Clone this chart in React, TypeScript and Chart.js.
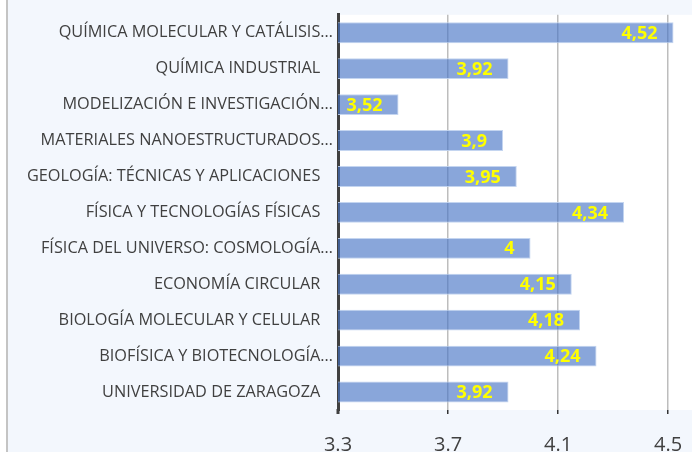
import React, { useEffect, useRef } from "react";
import { Chart, registerables } from "chart.js";

Chart.register(...registerables);

const categories = [
  "QUÍMICA MOLECULAR Y CATÁLISIS…",
  "QUÍMICA INDUSTRIAL",
  "MODELIZACIÓN E INVESTIGACIÓN…",
  "MATERIALES NANOESTRUCTURADOS…",
  "GEOLOGÍA: TÉCNICAS Y APLICACIONES",
  "FÍSICA Y TECNOLOGÍAS FÍSICAS",
  "FÍSICA DEL UNIVERSO: COSMOLOGÍA…",
  "ECONOMÍA CIRCULAR",
  "BIOLOGÍA MOLECULAR Y CELULAR",
  "BIOFÍSICA Y BIOTECNOLOGÍA…",
  "UNIVERSIDAD DE ZARAGOZA",
];
const values = [4.52, 3.92, 3.52, 3.9, 3.95, 4.34, 4, 4.15, 4.18, 4.24, 3.92];
const xTicks = [3.3, 3.7, 4.1, 4.5];
const xMin = 3.3;
const xMax = 4.689;

const FONT = "'Open Sans', sans-serif";

const bgPlugin = {
  id: "bgPlugin",
  beforeDraw(chart: any) {
    const { ctx, chartArea, width, height } = chart;
    ctx.save();
    ctx.fillStyle = "#ffffff";
    ctx.fillRect(0, 0, width, height);
    ctx.fillStyle = "#f3f7fd";
    ctx.fillRect(8, 0, width - 8, height);
    ctx.fillStyle = "#c4c4c4";
    ctx.fillRect(6, 0, 2, height);
    ctx.fillStyle = "#ffffff";
    ctx.fillRect(chartArea.left, chartArea.top, chartArea.right - chartArea.left, chartArea.bottom - chartArea.top);
    ctx.restore();
  },
  afterDraw(chart: any) {
    const { ctx, chartArea } = chart;
    ctx.save();
    ctx.fillStyle = "#404040";
    ctx.fillRect(chartArea.left - 1.5, chartArea.bottom - 1, 3, 5);
    ctx.restore();
  },
};

const labelPlugin = {
  id: "valueLabels",
  afterDatasetsDraw(chart: any) {
    const { ctx } = chart;
    const meta = chart.getDatasetMeta(0);
    ctx.save();
    ctx.font = `bold 18px ${FONT}`;
    ctx.fillStyle = "#ffff00";
    ctx.textBaseline = "middle";
    ctx.textAlign = "left";
    meta.data.forEach((bar: any, i: number) => {
      const text = String(values[i]).replace(".", ",");
      const w = ctx.measureText(text).width;
      let x = bar.x - 16 - w;
      const minX = bar.base + 16;
      if (x < minX) x = minX;
      ctx.fillText(text, x, bar.y + 1);
    });
    ctx.restore();
  },
};

export default function App() {
  const ref = useRef<HTMLCanvasElement | null>(null);
  useEffect(() => {
    document.body.style.margin = "0";
    const canvas = ref.current!;
    const chart = new Chart(canvas, {
      type: "bar",
      data: {
        labels: categories,
        datasets: [
          {
            data: values,
            backgroundColor: "rgba(68,114,196,0.63)",
            borderColor: "rgba(190,208,238,0.9)",
            borderWidth: 1,
            borderSkipped: false,
            categoryPercentage: 1,
            barPercentage: 0.58,
          },
        ],
      },
      options: {
        indexAxis: "y",
        animation: false,
        responsive: false,
        devicePixelRatio: 1,
        layout: { padding: { top: 13, left: 0, right: 0, bottom: 0 } },
        plugins: {
          legend: { display: false },
          tooltip: { enabled: false },
        },
        scales: {
          x: {
            min: xMin,
            max: xMax,
            afterBuildTicks: (s: any) => {
              s.ticks = xTicks.map((v) => ({ value: v }));
            },
            afterFit: (s: any) => {
              s.height = 42;
            },
            grid: {
              color: "#bdbdbd",
              lineWidth: 1.5,
              tickColor: "#333333",
              tickLength: 4,
              drawTicks: true,
            },
            border: { display: false },
            ticks: {
              padding: 19,
              color: "#404040",
              font: { family: FONT, size: 20 },
              maxRotation: 0,
              callback: (v: any) => Number(v).toFixed(1),
            },
          },
          y: {
            afterFit: (s: any) => {
              s.width = 338;
            },
            grid: { display: false, drawTicks: false },
            border: { display: true, color: "#404040", width: 3 },
            ticks: {
              padding: 5,
              color: "#404040",
              font: { family: FONT, size: 16.3 },
              autoSkip: false,
              callback: function (this: any, v: any) {
                const l = categories[v as number];
                return l.endsWith("…") ? l : l + "   ";
              },
            },
          },
        },
      },
      plugins: [bgPlugin, labelPlugin],
    } as any);
    return () => chart.destroy();
  }, []);
  return (
    <div style={{ width: 692, height: 452, overflow: "hidden" }}>
      <canvas ref={ref} width={720} height={452} style={{ display: "block" }} />
    </div>
  );
}
